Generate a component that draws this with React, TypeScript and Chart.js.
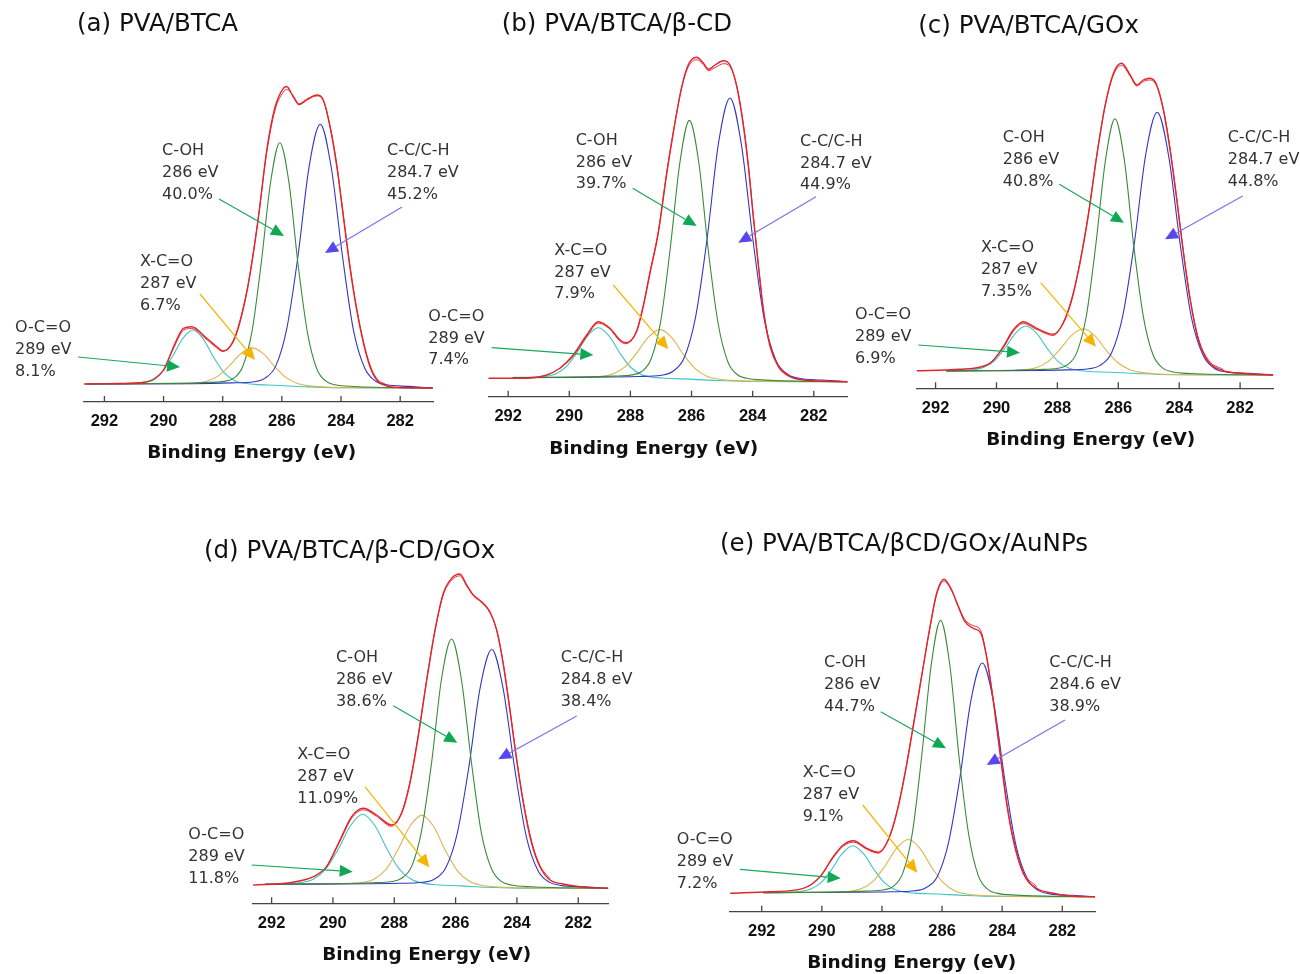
import React, { useEffect, useRef } from "react";
import { Chart, registerables } from "chart.js";

Chart.register(...registerables);

type Pt = [number, number];

const ENERGY_TICKS = [292, 290, 288, 286, 284, 282];
const PEAK_NAMES = ["C-OH", "C-C/C-H", "X-C=O", "O-C=O"];
const PANEL_TITLES = [
  "(a) PVA/BTCA",
  "(b) PVA/BTCA/β-CD",
  "(c) PVA/BTCA/GOx",
  "(d) PVA/BTCA/β-CD/GOx",
  "(e) PVA/BTCA/βCD/GOx/AuNPs",
];
const PEAK_EV = [
  ["286 eV", "284.7 eV", "287 eV", "289 eV"],
  ["286 eV", "284.7 eV", "287 eV", "289 eV"],
  ["286 eV", "284.7 eV", "287 eV", "289 eV"],
  ["286 eV", "284.8 eV", "287 eV", "289 eV"],
  ["286 eV", "284.6 eV", "287 eV", "289 eV"],
];
const PEAK_PCT = [
  ["40.0%", "45.2%", "6.7%", "8.1%"],
  ["39.7%", "44.9%", "7.9%", "7.4%"],
  ["40.8%", "44.8%", "7.35%", "6.9%"],
  ["38.6%", "38.4%", "11.09%", "11.8%"],
  ["44.7%", "38.9%", "9.1%", "7.2%"],
];

// ---- (a) PVA/BTCA : [binding energy, intensity]
const A_ENV: Pt[] = [[292.69,4],[291.5,4.5],[290.68,5.5],[290.3,9],[290.0,18],[289.61,44.7],[289.33,59.7],[289.05,61.3],[288.6,51.3],[288.2,41.3],[288.0,37],[287.75,41.3],[287.53,54.7],[287.24,88],[287.07,114.7],[286.79,171],[286.51,238],[286.23,281],[285.95,299.7],[285.84,301.5],[285.61,291],[285.42,283.5],[285.16,288],[284.82,293],[284.6,288],[284.37,261],[284.14,221],[283.92,171],[283.7,121],[283.47,78],[283.24,44.7],[283.02,21.3],[282.79,8],[282.45,2],[282.0,0.5],[280.9,0]];
const A_RAW: Pt[] = [[290.0,17],[289.61,43],[289.33,57.5],[289.05,59.5],[288.6,50],[288.2,40],[288.0,36.5],[287.75,42],[287.53,56],[287.24,89],[287.07,116],[286.79,172],[286.51,236],[286.23,278],[285.95,296],[285.84,298.5],[285.61,292],[285.42,284],[285.16,289],[284.82,292],[284.6,287.5],[284.37,262],[284.14,223],[283.92,173],[283.7,123],[283.47,80],[283.24,46.5],[283.02,23],[282.79,9.5],[282.45,3]];
const A_COH: Pt[] = [[292.6,4],[288.57,5.5],[287.95,6.6],[287.63,9.8],[287.32,21.8],[287.01,56.6],[286.70,124.4],[286.38,206],[286.07,245.3],[285.76,205.3],[285.45,123],[285.13,54.7],[284.82,19.3],[284.51,6.8],[284.2,3.2],[283.57,1.5],[280.9,0]];
const A_CC: Pt[] = [[292.6,4],[289.0,4.3],[287.70,5.1],[286.95,6.3],[286.58,9.6],[286.20,22.4],[285.83,59.9],[285.45,133],[285.08,221.2],[284.70,263.7],[284.33,220.5],[283.95,131.7],[283.58,57.9],[283.20,20],[282.83,6.8],[282.45,3.2],[281.70,1.6],[280.9,0]];
const A_XCO: Pt[] = [[292.6,4],[290.10,4.2],[289.33,4.4],[288.94,5],[288.55,6.8],[288.16,11.9],[287.78,22.1],[287.39,34.3],[287.0,40.1],[286.61,33.8],[286.23,20.9],[285.84,10.1],[285.45,4.3],[285.06,2.1],[284.68,1.1],[283.90,0.4],[280.9,0]];
const A_OCO: Pt[] = [[292.6,4],[291.81,4.3],[291.11,4.6],[290.76,5.4],[290.41,8.1],[290.06,15.9],[289.71,31],[289.36,49.2],[289.01,58],[288.66,49.2],[288.31,30.9],[287.96,15.6],[287.61,7.6],[287.26,4.7],[286.91,3.6],[286.21,2.7],[285.2,1.2],[284.2,0.3],[280.9,0]];

// ---- (b) PVA/BTCA/β-CD
const B_ENV: Pt[] = [[292.65,3.4],[291.62,3.4],[290.74,6.7],[290.31,13.4],[289.87,26.7],[289.43,46.7],[289.05,60],[288.67,53.4],[288.34,41.7],[288.15,39],[287.8,50],[287.58,75],[287.36,108.4],[287.09,148.4],[286.81,208.4],[286.6,248.4],[286.32,295],[286.11,316.7],[285.83,324.4],[285.61,318.4],[285.45,312.4],[285.23,316.7],[284.96,321],[284.74,316.7],[284.52,295],[284.3,255],[284.14,215],[283.98,165],[283.81,115],[283.65,71.7],[283.43,35],[283.16,15],[282.78,5],[282.34,1.7],[280.89,0]];
const B_RAW: Pt[] = [[290.31,13],[289.87,25.5],[289.43,45],[289.05,58.5],[288.67,52.5],[288.34,40.5],[288.15,38],[287.8,51],[287.58,76.5],[287.36,110],[287.09,150],[286.81,210],[286.6,249.5],[286.32,294],[286.11,314.5],[285.83,322],[285.61,317],[285.45,311],[285.23,314],[284.96,318],[284.74,315],[284.52,296],[284.3,257],[284.14,217],[283.98,167],[283.81,117],[283.65,73.5],[283.43,37],[283.16,16.5],[282.78,6]];
const B_COH: Pt[] = [[291.85,4],[288.57,5.6],[287.95,6.8],[287.63,10.2],[287.32,23],[287.01,60.1],[286.70,132.4],[286.38,219.4],[286.07,261.3],[285.76,218.7],[285.45,131],[285.13,58.2],[284.82,20.5],[284.51,7.2],[284.2,3.4],[283.57,1.6],[280.9,0]];
const B_CC: Pt[] = [[291.85,4],[287.74,5.2],[286.99,6.5],[286.62,10.2],[286.24,23.9],[285.87,64.3],[285.49,143.1],[285.12,238],[284.74,283.7],[284.37,237.3],[283.99,141.7],[283.62,62.3],[283.24,21.5],[282.87,7.4],[282.49,3.4],[281.74,1.7],[280.9,0]];
const B_XCO: Pt[] = [[291.85,4],[290.13,4.3],[289.36,4.6],[288.97,5.3],[288.58,7.7],[288.19,14.6],[287.81,28.1],[287.42,44.4],[287.03,52.1],[286.64,43.8],[286.26,27],[285.87,12.8],[285.48,5.3],[285.09,2.4],[284.71,1.3],[283.93,0.5],[280.9,0]];
const B_OCO: Pt[] = [[291.85,4.3],[291.15,4.6],[290.80,5.3],[290.45,7.8],[290.10,15],[289.75,29],[289.40,45.9],[289.05,54],[288.70,45.9],[288.35,28.9],[288.0,14.7],[287.65,7.3],[287.30,4.6],[286.95,3.7],[286.25,2.8],[285.2,1.2],[284.2,0.3],[280.9,0]];

// ---- (c) PVA/BTCA/GOx
const C_ENV: Pt[] = [[292.62,4.3],[291.2,5.7],[290.22,11.7],[289.78,28.3],[289.45,45],[289.12,53.3],[288.68,46.7],[288.13,40.7],[287.81,51.7],[287.53,75],[287.26,111.7],[286.99,158.3],[286.71,218.3],[286.44,268.3],[286.16,301.7],[285.89,311.7],[285.61,300],[285.39,290],[285.18,295],[284.96,296.7],[284.74,290],[284.52,265],[284.3,225],[284.08,175],[283.86,121.7],[283.64,75],[283.37,35],[283.04,13.3],[282.55,4.3],[282,1.7],[280.91,0]];
const C_RAW: Pt[] = [[290.22,11],[289.78,27],[289.45,43.5],[289.12,51.5],[288.68,45.5],[288.13,39.5],[287.81,52.5],[287.53,76.5],[287.26,113],[286.99,160],[286.71,219.5],[286.44,268],[286.16,300],[285.89,309.5],[285.61,299],[285.39,289],[285.18,293.5],[284.96,295],[284.74,289],[284.52,266],[284.3,227],[284.08,177],[283.86,123.5],[283.64,77],[283.37,37],[283.04,15],[282.55,5.5]];
const C_COH: Pt[] = [[291.65,4],[288.61,5.5],[287.99,6.7],[287.67,10.1],[287.36,22.6],[287.05,59],[286.74,129.9],[286.42,215.2],[286.11,256.3],[285.80,214.6],[285.49,128.6],[285.17,57.1],[284.86,20.2],[284.55,7.1],[284.24,3.3],[283.61,1.5],[280.91,0]];
const C_CC: Pt[] = [[291.65,4],[287.72,5.1],[286.97,6.2],[286.60,9.6],[286.22,22.3],[285.85,59.6],[285.47,132.6],[285.10,220.4],[284.72,262.7],[284.35,219.7],[283.97,131.2],[283.60,57.6],[283.22,19.9],[282.85,6.8],[282.47,3.1],[281.72,1.6],[280.91,0]];
const C_XCO: Pt[] = [[291.65,4],[290.25,4.3],[289.48,4.5],[289.09,5.1],[288.70,7.3],[288.31,13.4],[287.93,25.2],[287.54,39.4],[287.15,46.2],[286.76,38.9],[286.38,24.1],[285.99,11.7],[285.60,5],[285.21,2.4],[284.83,1.3],[284.05,0.5],[280.91,0]];
const C_OCO: Pt[] = [[291.65,4.4],[291.13,4.5],[290.78,5.2],[290.43,7.4],[290.08,13.9],[289.73,26.5],[289.38,41.7],[289.03,49],[288.68,41.7],[288.33,26.4],[287.98,13.6],[287.63,6.9],[287.28,4.5],[286.93,3.5],[286.23,2.8],[285.2,1.2],[284.2,0.3],[280.91,0]];

// ---- (d) PVA/BTCA/β-CD/GOx
const D_ENV: Pt[] = [[292.6,3.3],[291.4,5.6],[290.64,11.6],[290.21,21.6],[289.77,48.3],[289.39,71.6],[289.01,80],[288.58,73.3],[288.09,63.3],[287.76,75],[287.49,105],[287.22,151.6],[286.94,208.3],[286.67,258.3],[286.4,295],[286.13,310],[285.86,314.3],[285.64,303.3],[285.42,293.3],[285.15,286.6],[284.88,276.6],[284.66,258.3],[284.45,225],[284.23,178.3],[284.01,128.3],[283.79,85],[283.52,45],[283.25,21.6],[282.92,8.3],[282.49,4.3],[281.94,1.6],[281.02,0]];
const D_RAW: Pt[] = [[290.21,21],[289.77,47],[289.39,70],[289.01,78.5],[288.58,72],[288.09,62],[287.76,76],[287.49,106.5],[287.22,153],[286.94,209.5],[286.67,258],[286.4,293.5],[286.13,308],[285.86,312.5],[285.64,302.5],[285.42,292.5],[285.15,285.5],[284.88,275.5],[284.66,258],[284.45,226],[284.23,180],[284.01,130],[283.79,87],[283.52,47],[283.25,23],[282.92,9.5]];
const D_COH: Pt[] = [[292.2,4],[288.73,5.5],[288.08,6.8],[287.76,10],[287.43,22.2],[287.11,57.5],[286.78,126.4],[286.46,209.3],[286.13,249.3],[285.81,208.7],[285.48,125.1],[285.16,55.5],[284.83,19.6],[284.51,6.9],[284.18,3.3],[283.53,1.5],[281.02,0]];
const D_CC: Pt[] = [[292.2,4],[287.82,5],[287.07,6],[286.70,9],[286.32,20.6],[285.95,54.5],[285.57,120.7],[285.20,200.4],[284.82,238.8],[284.45,199.7],[284.07,119.2],[283.70,52.5],[283.32,18.1],[282.95,6.2],[282.57,2.9],[281.82,1.4],[281.02,0]];
const D_XCO: Pt[] = [[292.2,4],[290.20,4.4],[289.43,4.8],[289.04,5.8],[288.65,9.3],[288.26,19.3],[287.88,38.7],[287.49,62],[287.10,73.2],[286.71,61.5],[286.33,37.6],[285.94,17.5],[285.55,7],[285.16,3],[284.78,1.6],[284.0,0.6],[281.02,0]];
const D_OCO: Pt[] = [[292.2,4.4],[291.43,4.8],[291.03,5.8],[290.63,9.3],[290.23,19.4],[289.83,39],[289.43,62.6],[289.03,74],[288.63,62.6],[288.23,38.9],[287.83,19],[287.43,8.7],[287.03,4.9],[286.63,3.6],[285.83,2.4],[285.0,1.0],[284.0,0.2],[281.02,0]];

// ---- (e) PVA/BTCA/βCD/GOx/AuNPs
const E_ENV: Pt[] = [[293.05,3.4],[291.72,5],[290.62,8.4],[290.06,20],[289.62,40],[289.29,51.7],[288.95,56],[288.51,48.4],[288.12,44.4],[287.79,56.7],[287.51,83.4],[287.23,123.4],[286.96,170],[286.68,220],[286.4,270],[286.18,303.4],[285.94,317.4],[285.68,306.7],[285.46,290],[285.24,275],[284.96,268.4],[284.71,263.4],[284.52,240],[284.3,196.7],[284.07,143.4],[283.85,93.4],[283.63,56.7],[283.3,23.4],[282.85,8.4],[282.3,3.4],[281.74,0.7],[280.91,0]];
const E_RAW: Pt[] = [[290.06,19.5],[289.62,39],[289.29,50.5],[288.95,54.5],[288.51,47.5],[288.12,43.5],[287.79,57.5],[287.51,84.5],[287.23,124.5],[286.96,171],[286.68,221],[286.4,269.5],[286.18,302],[285.94,315.5],[285.68,306],[285.46,291],[285.24,277],[284.96,271],[284.71,266],[284.52,241],[284.3,198],[284.07,145],[283.85,95],[283.63,58.5],[283.3,25],[282.85,10]];
const E_COH: Pt[] = [[291.95,4],[288.55,5.6],[287.93,7],[287.61,10.6],[287.30,24.1],[286.99,63.4],[286.68,139.9],[286.36,231.9],[286.05,276.3],[285.74,231.2],[285.43,138.5],[285.11,61.5],[284.80,21.6],[284.49,7.6],[284.18,3.6],[283.55,1.6],[280.91,0]];
const E_CC: Pt[] = [[291.95,4],[287.66,4.9],[286.91,5.9],[286.54,8.9],[286.16,20],[285.79,53.3],[285.41,118],[285.04,196],[284.66,233.7],[284.29,195.4],[283.91,116.7],[283.54,51.3],[283.16,17.7],[282.79,6.1],[282.41,2.8],[281.66,1.4],[280.91,0]];
const E_XCO: Pt[] = [[291.95,4],[290.22,4.3],[289.45,4.6],[289.06,5.4],[288.67,8.1],[288.28,15.8],[287.90,30.7],[287.51,48.6],[287.12,57.2],[286.73,48.1],[286.35,29.6],[285.96,14.1],[285.57,5.8],[285.18,2.7],[284.80,1.4],[284.02,0.5],[280.91,0]];
const E_OCO: Pt[] = [[291.95,4.3],[291.07,4.6],[290.72,5.2],[290.37,7.6],[290.02,14.3],[289.67,27.5],[289.32,43.3],[288.97,51],[288.62,43.3],[288.27,27.4],[287.92,14],[287.57,7.1],[287.22,4.5],[286.87,3.6],[286.17,2.7],[285.2,1.2],[284.2,0.3],[280.91,0]];

// order: fit envelope, raw spectrum, C-OH, C-C/C-H, X-C=O, O-C=O
const SERIES = [
  [A_ENV, A_RAW, A_COH, A_CC, A_XCO, A_OCO],
  [B_ENV, B_RAW, B_COH, B_CC, B_XCO, B_OCO],
  [C_ENV, C_RAW, C_COH, C_CC, C_XCO, C_OCO],
  [D_ENV, D_RAW, D_COH, D_CC, D_XCO, D_OCO],
  [E_ENV, E_RAW, E_COH, E_CC, E_XCO, E_OCO],
];

// ---- layout / styling (page pixels)
type Layout = {
  left: number; right: number; axisY: number; top: number; base: number;
  eMax: number; eMin: number;
  title: [number, number]; axisTitle: [number, number];
  labels: [number, number][];
  arrows: [number, number, number, number][];
};

const LAYOUTS: Layout[] = [
  { left: 84, right: 433, axisY: 402, top: 40, base: 388, eMax: 292.69, eMin: 280.89,
    title: [77, 25], axisTitle: [251.7, 453.3],
    labels: [[162, 151], [387, 151], [140, 262], [15, 328]],
    arrows: [[219, 199, 284, 236], [402, 207, 325, 253], [200, 294, 255, 360], [78, 357, 180, 367]] },
  { left: 488.3, right: 847.7, axisY: 396.7, top: 40, base: 381.7, eMax: 292.65, eMin: 280.89,
    title: [501.7, 25], axisTitle: [653.7, 449.3],
    labels: [[575.7, 140.7], [800, 141.7], [554.3, 250.7], [428.3, 316.7]],
    arrows: [[632.7, 188.3, 696.7, 226], [816, 196.7, 738.3, 242.7], [613.3, 285, 668.3, 349.3], [491.7, 347.7, 593.3, 355]] },
  { left: 916.7, right: 1273.3, axisY: 388.3, top: 40, base: 375, eMax: 292.62, eMin: 280.91,
    title: [918.3, 26.7], axisTitle: [1090.7, 440],
    labels: [[1002.7, 138.3], [1227.7, 138.3], [981, 248.3], [855, 315]],
    arrows: [[1059.3, 184.3, 1124, 222.7], [1242.7, 196, 1165, 239.3], [1040.7, 282.7, 1096, 346.7], [918.3, 345, 1020, 352.7]] },
  { left: 252.3, right: 608.3, axisY: 903.3, top: 555, base: 888.3, eMax: 292.63, eMin: 281.02,
    title: [204, 551.7], axisTitle: [426.7, 955],
    labels: [[336, 658.3], [560.7, 658.3], [297.3, 755], [188.3, 835]],
    arrows: [[393.3, 705.7, 457.3, 742.7], [576.7, 716, 498.3, 759.3], [365, 786.7, 429.3, 867.3], [251.7, 865, 352.7, 871.7]] },
  { left: 729.3, right: 1095, axisY: 911.7, top: 555, base: 896.7, eMax: 293.08, eMin: 280.91,
    title: [720, 545], axisTitle: [911.7, 963.3],
    labels: [[824, 663.3], [1049.3, 663.3], [802.7, 773.3], [676.7, 840]],
    arrows: [[880.7, 711.7, 946, 748.3], [1065, 720, 986.7, 765], [862.7, 805, 917.3, 872.7], [740, 869.3, 840.7, 878.3]] },
];

const W = 1300;
const H = 974;
const X_AXIS_H = 40;
const SERIES_NAMES = ["Fit", "Raw", ...PEAK_NAMES];
const LINE_COLORS = ["#e3242b", "#e0343a", "#3b8b3b", "#3636c4", "#e0b24c", "#3fc3c6"];
const LINE_WIDTHS = [1.4, 1.0, 1.1, 1.1, 1.1, 1.1];
const ARROW_LINE = ["#1aa85c", "#7c72ee", "#f2b600", "#1aa85c"];
const ARROW_HEAD = ["#10a855", "#5846f0", "#f5b400", "#10a855"];
const TEXT_FONT = "'DejaVu Sans', 'Noto Sans', sans-serif";

function drawArrow(ctx: CanvasRenderingContext2D, a: number[], line: string, head: string) {
  const [x1, y1, x2, y2] = a;
  const ang = Math.atan2(y2 - y1, x2 - x1);
  const L = 13, HW = 6;
  const bx = x2 - L * Math.cos(ang), by = y2 - L * Math.sin(ang);
  ctx.strokeStyle = line;
  ctx.lineWidth = 1.2;
  ctx.beginPath();
  ctx.moveTo(x1, y1);
  ctx.lineTo(bx, by);
  ctx.stroke();
  ctx.fillStyle = head;
  ctx.beginPath();
  ctx.moveTo(x2, y2);
  ctx.lineTo(bx + HW * Math.sin(ang), by - HW * Math.cos(ang));
  ctx.lineTo(bx - HW * Math.sin(ang), by + HW * Math.cos(ang));
  ctx.closePath();
  ctx.fill();
}

function Panel({ idx }: { idx: number }) {
  const ref = useRef<HTMLCanvasElement | null>(null);
  useEffect(() => {
    const L = LAYOUTS[idx];
    const series = SERIES[idx];
    const deco = {
      id: "deco" + idx,
      afterDraw(chart: any) {
        const ctx: CanvasRenderingContext2D = chart.ctx;
        const xs = chart.scales.x;
        ctx.save();
        ctx.strokeStyle = "#444";
        ctx.lineWidth = 1.3;
        for (const v of ENERGY_TICKS) {
          const px = xs.getPixelForValue(v);
          ctx.beginPath();
          ctx.moveTo(px, xs.top);
          ctx.lineTo(px, xs.top - 6);
          ctx.stroke();
        }
        ctx.fillStyle = "#111";
        ctx.textBaseline = "middle";
        ctx.textAlign = "center";
        ctx.font = `bold 18.5px ${TEXT_FONT}`;
        ctx.fillText("Binding Energy (eV)", L.axisTitle[0], L.axisTitle[1]);
        ctx.textAlign = "left";
        ctx.font = `24.5px ${TEXT_FONT}`;
        ctx.fillText(PANEL_TITLES[idx], L.title[0], L.title[1]);
        ctx.font = `16px ${TEXT_FONT}`;
        ctx.fillStyle = "#333";
        for (let k = 0; k < 4; k++) {
          const [tx, ty] = L.labels[k];
          const lines = [PEAK_NAMES[k], PEAK_EV[idx][k], PEAK_PCT[idx][k]];
          lines.forEach((t, j) => ctx.fillText(t, tx, ty + j * 21.7));
        }
        for (let k = 0; k < 4; k++) drawArrow(ctx, L.arrows[k], ARROW_LINE[k], ARROW_HEAD[k]);
        ctx.restore();
      },
    };
    const chart = new Chart(ref.current as HTMLCanvasElement, {
      type: "line",
      data: {
        datasets: series.map((s, i) => ({
          label: SERIES_NAMES[i],
          data: s.map(([x, y]) => ({ x, y })),
          borderColor: LINE_COLORS[i],
          borderWidth: LINE_WIDTHS[i],
          pointRadius: 0,
          fill: false,
          cubicInterpolationMode: "monotone" as const,
        })),
      },
      options: {
        responsive: false,
        animation: false,
        devicePixelRatio: 1,
        events: [],
        layout: {
          padding: {
            left: L.left,
            right: W - L.right,
            top: L.top,
            bottom: H - L.axisY - X_AXIS_H,
          },
        },
        plugins: { legend: { display: false }, tooltip: { enabled: false }, title: { display: false } },
        scales: {
          x: {
            type: "linear",
            reverse: true,
            min: L.eMin,
            max: L.eMax,
            afterBuildTicks: (s: any) => {
              s.ticks = ENERGY_TICKS.map((v) => ({ value: v }));
            },
            afterFit: (s: any) => {
              s.height = X_AXIS_H;
            },
            grid: { display: false, drawTicks: false },
            border: { display: true, color: "#444", width: 1.3 },
            ticks: {
              autoSkip: false,
              maxRotation: 0,
              padding: 10,
              color: "#111",
              font: { family: "'Liberation Sans', Arial, sans-serif", size: 16.5, weight: "bold" },
              callback: (v: any) => String(v),
            },
          },
          y: {
            display: false,
            min: -(L.axisY - L.base),
            max: L.base - L.top,
          },
        },
      },
      plugins: [deco],
    });
    return () => chart.destroy();
  }, [idx]);
  return (
    <canvas
      ref={ref}
      width={W}
      height={H}
      style={{ position: "absolute", left: 0, top: 0, width: W, height: H }}
    />
  );
}

export default function App() {
  return (
    <div style={{ position: "absolute", left: 0, top: 0, width: W, height: H, background: "#fff", overflow: "hidden" }}>
      {[0, 1, 2, 3, 4].map((i) => (
        <Panel key={i} idx={i} />
      ))}
    </div>
  );
}
